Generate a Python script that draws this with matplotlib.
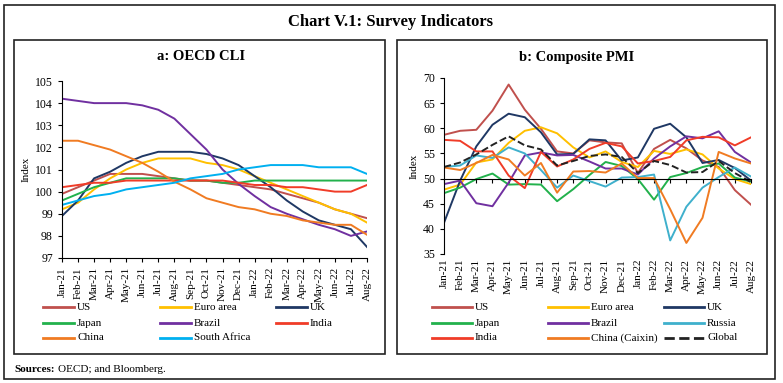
import matplotlib.pyplot as plt
from matplotlib.lines import Line2D
from matplotlib.patches import Rectangle

plt.rcParams['font.family'] = ['Liberation Serif', 'DejaVu Serif']

months = ["Jan-21", "Feb-21", "Mar-21", "Apr-21", "May-21", "Jun-21", "Jul-21",
          "Aug-21", "Sep-21", "Oct-21", "Nov-21", "Dec-21", "Jan-22", "Feb-22",
          "Mar-22", "Apr-22", "May-22", "Jun-22", "Jul-22", "Aug-22"]

# ---------- a: OECD CLI ----------
cli_us = [99.9, 100.2, 100.5, 100.8, 100.8, 100.8, 100.7, 100.6, 100.5, 100.5,
          100.4, 100.3, 100.2, 100.1, 99.9, 99.7, 99.5, 99.2, 99.0, 98.8]
cli_euro = [99.2, 99.5, 100.1, 100.6, 101.0, 101.3, 101.5, 101.5, 101.5, 101.3,
            101.2, 101.0, 100.7, 100.4, 100.1, 99.8, 99.5, 99.2, 99.0, 98.6]
cli_uk = [98.9, 99.6, 100.6, 100.9, 101.3, 101.6, 101.8, 101.8, 101.8, 101.7,
          101.5, 101.2, 100.7, 100.2, 99.6, 99.1, 98.7, 98.5, 98.3, 97.5]
cli_japan = [99.6, 99.9, 100.2, 100.4, 100.6, 100.6, 100.6, 100.6, 100.5, 100.5,
             100.4, 100.4, 100.5, 100.5, 100.5, 100.5, 100.5, 100.5, 100.5, 100.5]
cli_brazil = [104.2, 104.1, 104.0, 104.0, 104.0, 103.9, 103.7, 103.3, 102.6, 101.9,
              101.0, 100.35, 99.8, 99.3, 99.0, 98.75, 98.5, 98.3, 98.0, 98.2]
cli_india = [100.2, 100.3, 100.4, 100.4, 100.5, 100.5, 100.5, 100.5, 100.5, 100.5,
             100.5, 100.4, 100.3, 100.3, 100.2, 100.2, 100.1, 100.0, 100.0, 100.3]
cli_china = [102.3, 102.3, 102.1, 101.9, 101.6, 101.3, 100.9, 100.45, 100.1, 99.7,
             99.5, 99.3, 99.2, 99.0, 98.9, 98.7, 98.6, 98.5, 98.5, 98.05]
cli_safrica = [99.4, 99.6, 99.8, 99.9, 100.1, 100.2, 100.3, 100.4, 100.6, 100.7,
               100.8, 101.0, 101.1, 101.2, 101.2, 101.2, 101.1, 101.1, 101.1, 100.8]

# ---------- b: Composite PMI ----------
pmi_us = [58.7, 59.5, 59.7, 63.5, 68.7, 63.7, 59.9, 55.4, 55.0, 57.6,
          57.2, 57.0, 51.1, 55.9, 57.7, 56.0, 53.6, 52.3, 47.7, 44.8]
pmi_euro = [47.8, 48.8, 53.2, 53.8, 57.1, 59.5, 60.2, 59.0, 56.2, 54.2,
            55.4, 53.3, 52.3, 55.5, 54.9, 55.8, 54.8, 52.0, 49.9, 48.9]
pmi_uk = [41.2, 49.6, 56.4, 60.7, 62.9, 62.2, 59.2, 54.8, 54.9, 57.8,
          57.6, 53.6, 54.2, 59.9, 60.9, 58.2, 53.1, 53.7, 52.1, 49.6]
pmi_japan = [47.1, 48.2, 49.9, 51.0, 48.8, 48.9, 48.8, 45.5, 47.9, 50.7,
             53.3, 52.5, 49.9, 45.8, 50.3, 51.1, 52.3, 53.0, 50.2, 49.4]
pmi_brazil = [48.9, 49.6, 45.1, 44.5, 49.2, 54.6, 55.2, 54.6, 54.7, 53.4,
              52.0, 52.0, 50.8, 54.0, 56.4, 58.4, 58.0, 59.4, 55.3, 53.2]
pmi_russia = [52.3, 52.6, 54.6, 54.1, 56.2, 55.0, 51.7, 48.2, 50.6, 49.5,
              48.4, 50.2, 50.3, 50.8, 37.7, 44.4, 48.2, 50.3, 52.2, 50.4]
pmi_india = [57.7, 57.5, 55.4, 55.4, 50.6, 48.1, 55.3, 52.4, 53.8, 55.9,
             57.1, 56.4, 53.0, 53.5, 54.3, 57.6, 58.3, 58.2, 56.6, 58.2]
pmi_china = [52.2, 51.7, 53.1, 54.7, 53.8, 50.6, 53.1, 47.2, 51.4, 51.5,
             51.2, 53.0, 50.1, 50.1, 43.9, 37.2, 42.2, 55.3, 54.0, 53.0]
pmi_global = [52.3, 53.2, 54.8, 56.7, 58.4, 56.6, 55.8, 52.6, 53.5, 54.5,
              54.8, 54.3, 51.1, 53.5, 52.7, 51.2, 51.3, 53.5, 51.1, 49.3]

C_US = "#c0504d"
C_EURO = "#ffc000"
C_UK = "#1f3864"
C_JAPAN = "#22b14c"
C_BRAZIL = "#7030a0"
C_INDIA = "#f03c28"
C_CHINA = "#f07b22"
C_SAFRICA = "#00b0f0"
C_RUSSIA = "#3fb0cc"

W, H = 783, 383
fig = plt.figure(figsize=(W / 100, H / 100), dpi=100)


def fx(x):
    return x / W


def fy(y):
    return 1 - y / H


def box(x0, y0, x1, y1, lw=1.2):
    fig.add_artist(Rectangle((fx(x0), fy(y1)), fx(x1) - fx(x0), fy(y0) - fy(y1),
                             transform=fig.transFigure, fill=False,
                             edgecolor="#222222", linewidth=lw))


box(4, 5, 775, 379)
box(14, 40, 385, 354)
box(397, 40, 767, 354)

fig.text(fx(390), fy(22), "Chart V.1: Survey Indicators", ha="center", va="center",
         fontsize=12, fontweight="bold")
src = fig.text(fx(14), fy(369), "Sources:", ha="left", va="center", fontsize=8, fontweight="bold")
bb = src.get_window_extent(fig.canvas.get_renderer())
fig.text(fx(bb.x1 + 3), fy(369), "OECD; and Bloomberg.", ha="left", va="center", fontsize=8)

x = list(range(len(months)))

# panel a
ax1 = fig.add_axes([fx(62), fy(258), fx(367) - fx(62), fy(81) - fy(258)])
series_a = [("US", cli_us, C_US, "-"), ("Euro area", cli_euro, C_EURO, "-"),
            ("UK", cli_uk, C_UK, "-"), ("Japan", cli_japan, C_JAPAN, "-"),
            ("Brazil", cli_brazil, C_BRAZIL, "-"), ("India", cli_india, C_INDIA, "-"),
            ("China", cli_china, C_CHINA, "-"), ("South Africa", cli_safrica, C_SAFRICA, "-")]
for name, vals, col, ls in series_a:
    ax1.plot(x, vals, color=col, lw=1.4, ls=ls)
ax1.set_xlim(0, len(months) - 1)
ax1.set_ylim(97, 105)
ax1.set_yticks(range(97, 106))
ax1.set_xticks(x)
ax1.set_xticklabels(months, rotation=90, fontsize=8)
ax1.tick_params(axis="y", labelsize=8.5, length=3)
ax1.tick_params(axis="x", length=3)
ax1.spines[["top", "right"]].set_visible(False)
ax1.set_ylabel("Index", fontsize=8, labelpad=3)
fig.text(fx(201), fy(57), "a: OECD CLI", ha="center", va="center",
         fontsize=10.5, fontweight="bold")

# panel b
ax2 = fig.add_axes([fx(444), fy(254), fx(751) - fx(444), fy(78) - fy(254)])
series_b = [("US", pmi_us, C_US, "-"), ("Euro area", pmi_euro, C_EURO, "-"),
            ("UK", pmi_uk, C_UK, "-"), ("Japan", pmi_japan, C_JAPAN, "-"),
            ("Brazil", pmi_brazil, C_BRAZIL, "-"), ("Russia", pmi_russia, C_RUSSIA, "-"),
            ("India", pmi_india, C_INDIA, "-"), ("China (Caixin)", pmi_china, C_CHINA, "-"),
            ("Global", pmi_global, "#222222", "--")]
for name, vals, col, ls in series_b:
    ax2.plot(x, vals, color=col, lw=1.4, ls=ls)
ax2.set_xlim(0, len(months) - 1)
ax2.set_ylim(35, 70)
ax2.set_yticks(range(35, 71, 5))
ax2.set_xticks(x)
ax2.spines[["top", "right"]].set_visible(False)
ax2.spines["bottom"].set_position(("data", 50))
ax2.tick_params(axis="x", labelbottom=False, length=3)
ax2.tick_params(axis="y", labelsize=8.5, length=3)
sec = ax2.secondary_xaxis(0)
sec.set_xticks(x)
sec.set_xticklabels(months, rotation=90, fontsize=8)
sec.tick_params(length=0)
sec.spines["bottom"].set_visible(False)
ax2.set_ylabel("Index", fontsize=8, labelpad=3)
fig.text(fx(577), fy(57), "b: Composite PMI", ha="center", va="center",
         fontsize=10.5, fontweight="bold")


def legend_rows(series, cols_x, line_len, rows_y):
    for i, (name, vals, col, ls) in enumerate(series):
        r, c = divmod(i, 3)
        x0 = cols_x[c]
        y0 = rows_y[r]
        fig.add_artist(Line2D([fx(x0), fx(x0 + line_len)], [fy(y0), fy(y0)],
                              transform=fig.transFigure, color=col, lw=2, ls=ls))
        fig.text(fx(x0 + line_len + 3), fy(y0), name, ha="left", va="center", fontsize=8)


legend_rows(series_a, [43, 160, 276], 31, [307, 323, 338])
legend_rows(series_b, [432, 548, 664], 40, [307, 323, 338])

fig.savefig("out.png", dpi=100)
